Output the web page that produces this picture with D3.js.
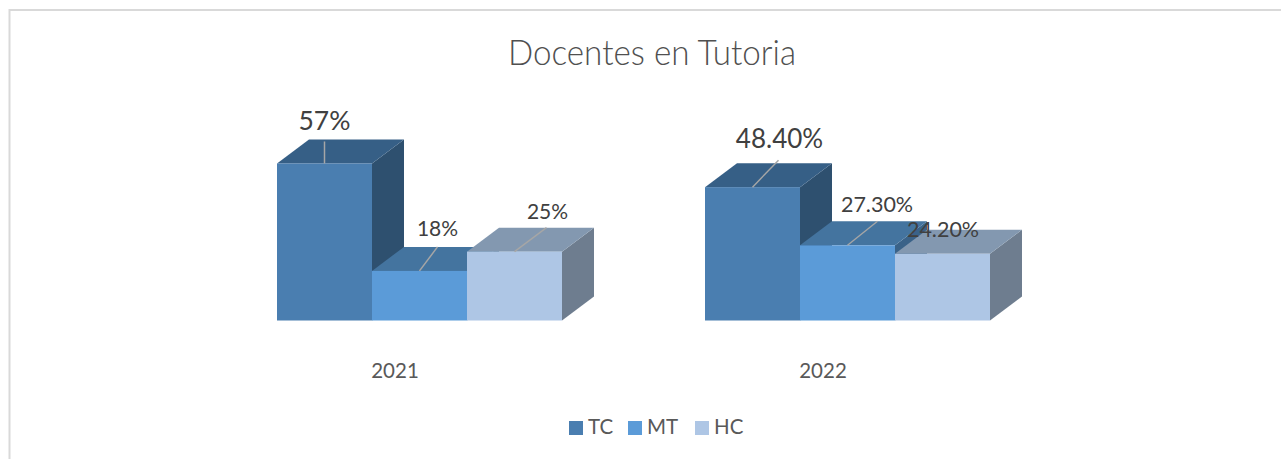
<!DOCTYPE html>
<html><head><meta charset="utf-8">
<script src="https://cdn.jsdelivr.net/npm/d3@7/dist/d3.min.js"></script>
<style>html,body{margin:0;padding:0;background:#fff;overflow:hidden}svg{display:block}text{font-family:Lato,"Open Sans",sans-serif}</style>
</head><body><svg id="c" width="1281" height="459"></svg>
<script>
const title = "Docentes en Tutoria";
const years = ["2021","2022"];
const seriesNames = ["TC","MT","HC"];
const valuesTC = [57,48.4];
const valuesMT = [18,27.3];
const valuesHC = [25,24.2];
const labelsTC = ["57%","48.40%"];
const labelsMT = ["18%","27.30%"];
const labelsHC = ["25%","24.20%"];

const frontColors = ["#4a7eb0","#5b9bd8","#aec6e5"];
const topColors = ["#365f86","#44749f","#8398b0"];
const sideColors = ["#2e506f","#3a6288","#6e7d8f"];
const W=1281,H=459,baseY=320.5,depthX=32,depthY=24;
const svg=d3.select("#c");
const allValues=[valuesTC,valuesMT,valuesHC];
const allLabels=[labelsTC,labelsMT,labelsHC];
// leader end offsets [dx,dy from top-front centre] and label offsets per year/series
const leaders=[[[0,-22],[26,-27]],[[18,-24],[30,-24]],[[32,-24],[0,0]]];
const labelNudge=[[[0,-33],[27,-39]],[[18,-34.5],[29.5,-33]],[[33,-33],[0.5,-17]]];
const labelSize=[[26.5,26],[21,21.5],[21,21.5]];

const x0=d3.scaleBand().domain(years).range([181,1037]).padding(0);
const x1=d3.scaleBand().domain(seriesNames).range([0,285]);
const y=d3.scaleLinear().domain([0,100]).range([baseY,baseY-275.5]);
const groupLeft=yr=>x0(yr)+x0.bandwidth()/2-118;

svg.append("path").attr("d",`M9.5,${H} V10 H${W}`).attr("fill","none").attr("stroke","#d9d9d9").attr("stroke-width",2);
svg.append("text").attr("x",508).attr("y",65).attr("textLength",288).attr("lengthAdjust","spacingAndGlyphs").attr("font-size",36).attr("fill","#505050").attr("font-weight",300).text(title);

const line=d3.line();
years.forEach((yr,yi)=>{
  const g=svg.append("g");
  seriesNames.forEach((s,si)=>{
    const x=groupLeft(yr)+x1(s),w=x1.bandwidth(),t=y(allValues[si][yi]);
    g.append("path").attr("fill",sideColors[si])
      .attr("d",line([[x+w,t],[x+w+depthX,t-depthY],[x+w+depthX,baseY-depthY],[x+w,baseY]])+"Z");
    g.append("path").attr("fill",topColors[si])
      .attr("d",line([[x,t],[x+depthX,t-depthY],[x+w+depthX,t-depthY],[x+w,t]])+"Z");
    g.append("rect").attr("x",x).attr("y",t).attr("width",w).attr("height",baseY-t).attr("fill",frontColors[si]);
  });
  seriesNames.forEach((s,si)=>{
    const cx=groupLeft(yr)+x1(s)+x1.bandwidth()/2,t=y(allValues[si][yi]);
    const L=leaders[si][yi];
    if(L[0]||L[1]) g.append("line").attr("x1",cx).attr("y1",t).attr("x2",cx+L[0]).attr("y2",t+L[1]).attr("stroke","#a6a6a6").attr("stroke-width",1.5);
    const N=labelNudge[si][yi];
    g.append("text").attr("x",cx+N[0]).attr("y",t+N[1]).attr("text-anchor","middle")
      .attr("font-size",labelSize[si][yi]).attr("fill","#404040").text(allLabels[si][yi]);
  });
});

const axis=svg.append("g").attr("transform","translate(0,355)").call(d3.axisBottom(x0).tickSize(0).tickPadding(8));
axis.select(".domain").remove();
axis.selectAll("text").attr("font-size",20.5).attr("fill","#595959").attr("font-family","Lato");

const lx=[569,628,695];
seriesNames.forEach((s,i)=>{
  svg.append("rect").attr("x",lx[i]).attr("y",421).attr("width",14).attr("height",14).attr("fill",frontColors[i]);
  svg.append("text").attr("x",lx[i]+19).attr("y",434).attr("font-size",20.5).attr("fill","#595959").text(s);
});
</script></body></html>
